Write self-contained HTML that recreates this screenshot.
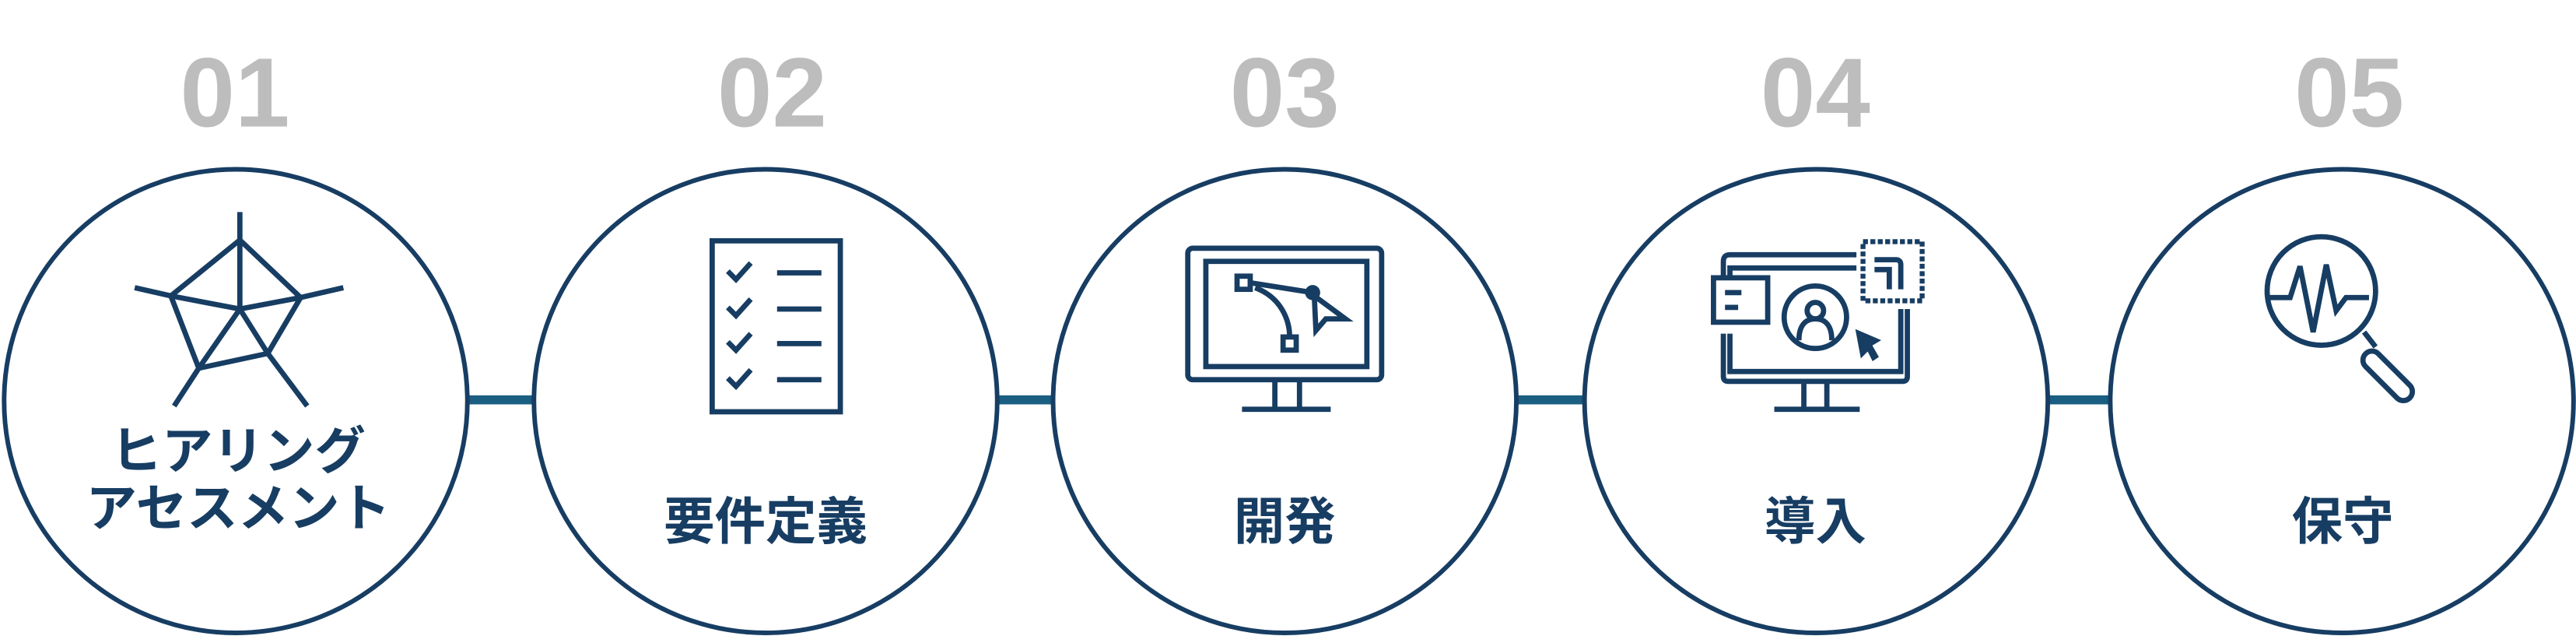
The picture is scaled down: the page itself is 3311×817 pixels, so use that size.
<!DOCTYPE html>
<html><head><meta charset="utf-8"><style>
html,body{margin:0;padding:0;background:#fff;width:3311px;height:817px;overflow:hidden}
svg{display:block}
</style></head><body>
<svg width="3311" height="817" viewBox="0 0 1568 386.9" preserveAspectRatio="none" xmlns="http://www.w3.org/2000/svg">
<g fill="#1a5e82">
<rect x="284" y="240.5" width="42" height="5.5"/>
<rect x="606" y="240.5" width="36" height="5.5"/>
<rect x="922" y="240.5" width="44" height="5.5"/>
<rect x="1245" y="240.5" width="41" height="5.5"/>
</g>
<g fill="#fff" stroke="#173d63" stroke-width="2.8">
<circle cx="143.5" cy="244" r="141"/>
<circle cx="466" cy="244" r="141"/>
<circle cx="782" cy="244" r="141"/>
<circle cx="1105.5" cy="244" r="141"/>
<circle cx="1425.5" cy="244" r="141"/>
</g>
<g font-family="Liberation Sans, sans-serif" font-weight="bold" font-size="60" fill="#bdbdbd" text-anchor="middle">
<text x="143" y="77">01</text><text x="470" y="77">02</text><text x="782" y="77">03</text><text x="1105" y="77">04</text><text x="1430" y="77">05</text>
</g>
<g font-family="Liberation Sans, 'Noto Sans CJK JP', sans-serif" font-weight="bold" font-size="31" fill="#173d63" text-anchor="middle">
<text x="145" y="285">ヒアリング</text>
<text x="145" y="320">アセスメント</text>
<text x="466" y="328">要件定義</text>
<text x="782" y="328">開発</text>
<text x="1105" y="328">導入</text>
<text x="1426" y="328">保守</text>
</g>
<g fill="none" stroke="#173d63" stroke-width="3.2" stroke-linejoin="miter">
<line x1="146" y1="129" x2="146" y2="188"/>
<polyline points="82,175 104,180 146,146 183,181 209,175"/>
<polyline points="104,180 121,224 163,215 183,181"/>
<line x1="121" y1="224" x2="106" y2="247"/><line x1="163" y1="215" x2="187" y2="247"/>
<line x1="104" y1="180" x2="146" y2="188"/><line x1="183" y1="181" x2="146" y2="188"/>
<line x1="146" y1="188" x2="121" y2="224"/><line x1="146" y1="188" x2="163" y2="215"/>
<rect x="433.5" y="146.5" width="78" height="104"/>
<path d="M443 165l5 5 9-10M443 187l5 5 9-10M443 208l5 5 9-10M443 230l5 5 9-10"/>
<path d="M473 166h27M473 188h27M473 209h27M473 231h27"/>
<rect x="723" y="151" width="118" height="80" rx="3"/>
<rect x="734" y="159" width="98" height="64"/>
<path d="M776 232v16M791 232v16M756 249h54"/>
<rect x="753" y="168" width="8" height="8"/><rect x="781" y="205" width="8" height="8"/>
<path d="M761 172l38 6M764 175c16 6 21 20 21 30"/>
<circle cx="799" cy="178" r="3" fill="#173d63"/>
<path d="M800 180l19 14h-12l-6 7z"/>
<path d="M1049 169v-10q0-4 4-4h77M1053 169v-6h77M1049 203v26q0 3 3 3h106q3 0 3-3v-41M1053 203v23h104v-38"/>
<path d="M1141 158h13q3 0 3 3v15M1141 164h9v12"/>
<rect x="1134" y="147" width="36" height="36" stroke-dasharray="3 1.5" stroke-width="3"/>
<rect x="1043" y="169" width="33" height="27"/>
<path d="M1050 178h10M1050 187h8"/>
<circle cx="1105" cy="193" r="19"/>
<circle cx="1105" cy="189" r="5"/>
<path d="M1095 207c0-9 4-13 10-13s10 4 10 13"/>
<path d="M1130 201l14 6-5 3 4 7-3 2-3-6-4 4z" fill="#173d63" stroke-width="1"/>
<path d="M1098 232v16M1112 232v16M1080 249h52"/>
<circle cx="1413" cy="177" r="33"/>
<path d="M1381 181h13l6-19 8 40 8-41 6 28 6-8h14"/>
<path d="M1439 202l7 9"/>
<rect x="1448" y="210" width="11" height="38" rx="5.5" transform="rotate(-45 1453 229)"/>
</g>
</svg>
</body></html>
